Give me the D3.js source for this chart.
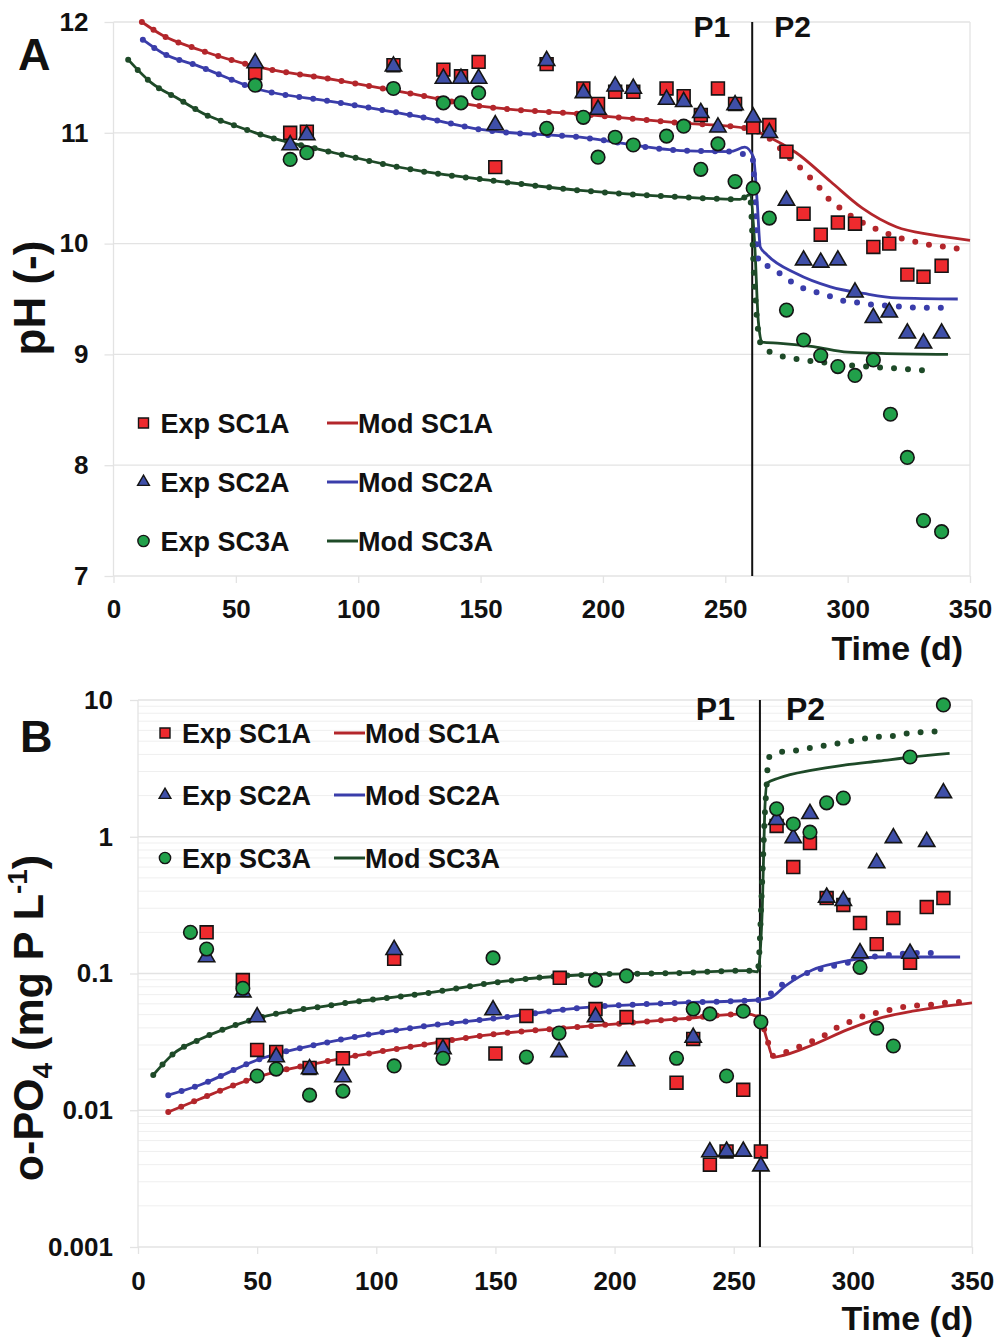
<!DOCTYPE html>
<html><head><meta charset="utf-8">
<script src="https://cdn.jsdelivr.net/npm/d3@7"></script>
<style>
body{margin:0;background:#fff}
svg{display:block}
text{font-family:"Liberation Sans",Arial,sans-serif;font-weight:bold;fill:#111}
</style>
</head><body>
<svg id="c" width="1000" height="1342"></svg>
<script>
// ---------- DATA ----------
const dayTicks = [0,50,100,150,200,250,300,350];
const phTicks = [7,8,9,10,11,12];
const po4Ticks = [0.001,0.01,0.1,1,10];
const po4TickLabels = ["0.001","0.01","0.1","1","10"];
const expLabels = ["Exp SC1A","Exp SC2A","Exp SC3A"];
const modLabels = ["Mod SC1A","Mod SC2A","Mod SC3A"];
const phaseDay = 261;

// Panel A: pH, experimental [day, pH]
const phExp1 = [[57.9,11.54],[72.2,11.0],[79,11.01],[114.4,11.61],[134.8,11.57],[142,11.51],[149.2,11.64],[156,10.69],[177,11.62],[192,11.4],[198,11.26],[205,11.37],[212.4,11.37],[226,11.4],[233,11.33],[240,11.16],[247,11.4],[254,11.26],[261.4,11.05],[268,11.07],[275,10.83],[282,10.27],[289,10.08],[296,10.19],[303,10.18],[310.5,9.97],[317,10.0],[324.4,9.72],[331,9.7],[338.4,9.8]];
const phExp2 = [[57.9,11.63],[72.2,10.89],[79,10.98],[114.4,11.6],[134.8,11.49],[142,11.49],[149.2,11.49],[156,11.07],[177,11.65],[192,11.36],[198,11.21],[205,11.42],[212.4,11.4],[226,11.3],[233,11.28],[240,11.18],[247,11.05],[254,11.25],[261.4,11.14],[268,11.0],[275,10.39],[282,9.85],[289,9.83],[296,9.85],[303,9.56],[310.5,9.33],[317,9.38],[324.4,9.19],[331,9.1],[338.4,9.19]];
const phExp3 = [[57.9,11.43],[72.2,10.76],[79,10.82],[114.4,11.4],[134.8,11.27],[142,11.27],[149.2,11.36],[177,11.04],[192,11.14],[198,10.78],[205,10.96],[212.4,10.89],[226,10.97],[233,11.06],[240,10.67],[247,10.9],[254,10.56],[261.4,10.5],[268,10.23],[275,9.4],[282,9.13],[289,8.99],[296,8.89],[303,8.81],[310.5,8.95],[317.5,8.46],[324.4,8.07],[331,7.5],[338.4,7.4]];
// Panel A: model (solid) and model variant (dotted, P2 part)
const phMod1 = [[11.6,12.0],[20,11.88],[35,11.75],[58,11.6],[90,11.48],[120,11.36],[150,11.24],[190,11.17],[231,11.09],[259,11.04],[268,10.96],[279,10.82],[293,10.56],[306,10.32],[320,10.15],[334,10.08],[350,10.03]];
const phModDot1 = [[261,11.03],[268,10.95],[275,10.8],[282.7,10.64],[287.5,10.53],[292,10.41],[297,10.32],[302,10.24],[308,10.17],[314,10.11],[320,10.06],[327,10.02],[333,9.99],[340,9.97],[346,9.95]];
const phMod2 = [[12,11.84],[20,11.72],[35,11.6],[58,11.4],[90,11.28],[124,11.15],[150,11.03],[190.7,10.96],[231.6,10.84],[252,10.83],[258,10.87],[261.5,10.78],[263,10.39],[264.3,9.97],[267,9.9],[279,9.73],[293,9.61],[306.5,9.55],[320,9.51],[345,9.5]];
const phModDot2 = [[257,10.81],[261,10.79],[262,10.5],[263,9.95],[264,9.82],[267,9.8],[273,9.72],[278,9.64],[284,9.58],[291,9.54],[297,9.49],[303,9.47],[310,9.45],[316,9.44],[323,9.43],[330,9.42],[343,9.42]];
const phMod3 = [[6,11.66],[15,11.46],[27,11.3],[38,11.16],[49,11.07],[58,11.0],[90,10.82],[124,10.66],[158,10.56],[190.7,10.48],[231.6,10.42],[256,10.4],[260,10.44],[262,10.0],[263.5,9.3],[265,9.11],[272.5,9.1],[286,9.07],[300,9.02],[313.5,9.01],[341,9.0]];
const phModDot3 = [[260,10.44],[262,9.6],[263.5,9.2],[265,9.07],[269.7,9.01],[275.8,8.97],[282,8.95],[289,8.93],[295.5,8.92],[302,8.9],[308.6,8.89],[315,8.88],[322,8.87],[328.6,8.86],[335,8.85]];

// Panel B: o-PO4 (mg P/L), experimental [day, value]
const po4Exp1 = [[28.8,0.2],[44,0.0896],[50,0.0276],[58,0.0267],[72,0.0204],[86,0.024],[107.5,0.128],[128,0.030],[150,0.026],[163,0.0489],[177,0.093],[192,0.055],[205,0.048],[226,0.0159],[233,0.0332],[240,0.004],[247,0.005],[254,0.0141],[261.4,0.005],[268,1.2],[275,0.6],[282,0.9],[289,0.356],[296,0.317],[303,0.234],[310,0.164],[317,0.255],[324,0.12],[331,0.306],[338,0.356]];
const po4Exp2 = [[28.8,0.132],[44,0.073],[50,0.048],[58,0.0245],[72,0.02],[86,0.0175],[107.5,0.149],[128,0.028],[149,0.054],[176.7,0.0267],[192,0.048],[205,0.0229],[233,0.034],[240,0.00495],[247,0.005],[254,0.005],[261.4,0.0039],[268,1.33],[275,0.98],[282,1.47],[289,0.36],[296,0.34],[303,0.141],[310,0.643],[317,0.98],[324,0.14],[331,0.92],[338,2.09]];
const po4Exp3 = [[22,0.2],[28.8,0.151],[44,0.078],[50,0.0178],[58,0.02],[72,0.0129],[86,0.0138],[107.5,0.0211],[128,0.024],[149,0.13],[163,0.0245],[176.7,0.0367],[192,0.0895],[205,0.096],[226,0.024],[233,0.055],[240,0.0506],[247,0.0178],[254,0.053],[261.4,0.0442],[268,1.6],[275,1.24],[282,1.08],[289,1.77],[296,1.92],[303,0.111],[310,0.0398],[317,0.0295],[324,3.83],[338,9.2]];
const po4Mod1 = [[12.7,0.0097],[26,0.0121],[50,0.0175],[82,0.0233],[124,0.031],[143.5,0.035],[185.5,0.0407],[227,0.0465],[255.5,0.0506],[261,0.047],[264,0.0327],[266.5,0.0245],[269,0.0248],[283,0.030],[297.5,0.0387],[311,0.047],[325,0.053],[350,0.061]];
const po4ModDot1 = [[261,0.047],[264,0.033],[266.5,0.025],[274,0.0276],[281,0.031],[287,0.0344],[293,0.04],[299.6,0.045],[306,0.0498],[312,0.0524],[319,0.056],[325,0.058],[332,0.059],[338.6,0.061],[345.6,0.062]];
const po4Mod2 = [[12.7,0.0129],[26,0.0153],[50,0.0233],[82,0.032],[124,0.042],[150,0.047],[185.5,0.056],[227,0.061],[260,0.064],[265,0.066],[272,0.082],[283,0.106],[297,0.123],[311,0.132],[345,0.132]];
const po4ModDot2 = [[260,0.064],[266.5,0.073],[272,0.087],[278.6,0.098],[285,0.106],[291,0.113],[298,0.12],[304,0.13],[311,0.134],[318,0.138],[325,0.141],[331.5,0.141],[338,0.141]];
const po4Mod3 = [[6.4,0.0181],[15,0.026],[26,0.033],[50,0.047],[82,0.059],[124,0.073],[150,0.086],[185,0.0975],[227,0.101],[255.5,0.105],[260,0.103],[262,0.3],[263,1.5],[264,2.47],[269,2.69],[283,3.07],[297,3.35],[311,3.58],[325,3.83],[340.6,4.07]];
const po4ModDot3 = [[260,0.103],[262,0.5],[263,1.4],[264,2.7],[264.4,3.77],[270,4.17],[277,4.3],[283,4.5],[290,4.68],[297,4.93],[304,5.19],[310,5.37],[317,5.46],[324,5.74],[331,5.84],[337.5,5.93]];

// ---------- STYLE ----------
const fillCols = ["#EE2A2E","#3F4FA8","#21A04A"];
const lineCols = ["#B3262B","#3A3DAA","#1E4A28"];
const symbols = [d3.symbolSquare, d3.symbolTriangle, d3.symbolCircle];
const symSizes = [165, 115, 145];
const legSizes = [100, 60, 100];
const gridCol = "#e3e3e3";
const FONT = '"Liberation Sans", Arial, sans-serif';

const svg = d3.select("#c");

function withDots(mod, dotP2){ return mod.filter(d=>d[0] < dotP2[0][0]).concat(dotP2); }

function drawPanel(o){
  const g = svg.append("g");
  const [x0,x1] = o.x.range();
  const [yb,yt] = o.y.range();
  if (o.minor){
    g.append("g").selectAll("line").data(o.minor).join("line")
      .attr("x1",x0).attr("x2",x1).attr("y1",d=>o.y(d)).attr("y2",d=>o.y(d))
      .attr("stroke","#efefef").attr("stroke-width",1);
  }
  g.append("g").selectAll("line").data(o.yTicks).join("line")
    .attr("x1",x0).attr("x2",x1).attr("y1",d=>o.y(d)).attr("y2",d=>o.y(d))
    .attr("stroke",gridCol).attr("stroke-width",1.3);
  g.append("g").selectAll("line").data([0,350]).join("line")
    .attr("x1",d=>o.x(d)).attr("x2",d=>o.x(d)).attr("y1",yt).attr("y2",yb)
    .attr("stroke",gridCol).attr("stroke-width",1.3);
  const ay = g.append("g").attr("transform",`translate(${x0},0)`)
    .call(d3.axisLeft(o.y).tickValues(o.yTicks).tickFormat((d,i)=>o.yLabels[i]).tickSize(o.yTickSize).tickPadding(o.yPad));
  const ax = g.append("g").attr("transform",`translate(0,${yb})`)
    .call(d3.axisBottom(o.x).tickValues(dayTicks).tickFormat(d3.format("d")).tickSize(7).tickPadding(o.xPad));
  [ax,ay].forEach(a=>{
    a.select(".domain").remove();
    a.attr("font-size",26).attr("font-family",FONT).attr("font-weight","bold");
    a.selectAll(".tick line").attr("stroke",gridCol).attr("stroke-width",1.3);
    a.selectAll(".tick text").attr("fill","#111");
  });
  g.append("line").attr("x1",o.x(phaseDay)).attr("x2",o.x(phaseDay)).attr("y1",yt).attr("y2",yb)
    .attr("stroke","#111").attr("stroke-width",2);
  const line = d3.line().x(d=>o.x(d[0])).y(d=>o.y(d[1])).curve(d3.curveMonotoneX);
  o.mods.forEach((m,i)=>{
    g.append("path").attr("d",line(m)).attr("fill","none").attr("stroke",lineCols[i]).attr("stroke-width",2.8);
  });
  o.dots.forEach((m,i)=>{
    g.append("path").attr("d",line(m)).attr("fill","none").attr("stroke",lineCols[i])
      .attr("stroke-width",6).attr("stroke-linecap","round").attr("stroke-dasharray","0,14");
  });
  o.exps.forEach((e,i)=>{
    g.append("g").selectAll("path").data(e).join("path")
      .attr("transform",d=>`translate(${o.x(d[0])},${o.y(d[1])})`)
      .attr("d",d3.symbol(symbols[i],symSizes[i]))
      .attr("fill",fillCols[i]).attr("stroke","#151515").attr("stroke-width",1.6);
  });
  const lg = g.append("g");
  o.legRows.forEach((ry,i)=>{
    lg.append("path").attr("transform",`translate(${o.legX},${ry})`)
      .attr("d",d3.symbol(symbols[i],legSizes[i])).attr("fill",fillCols[i]).attr("stroke","#151515").attr("stroke-width",1.4);
    lg.append("text").attr("x",o.legX+17).attr("y",ry+10).attr("font-size",27).text(expLabels[i]);
    lg.append("line").attr("x1",o.legLineX).attr("x2",o.legLineX+31).attr("y1",ry).attr("y2",ry)
      .attr("stroke",lineCols[i]).attr("stroke-width",3);
    lg.append("text").attr("x",o.legLineX+31).attr("y",ry+10).attr("font-size",27).text(modLabels[i]);
  });
  g.append("text").attr("x",o.x(phaseDay)-o.pOff).attr("y",o.pY).attr("text-anchor","end").attr("font-size",o.pSize).text("P1");
  g.append("text").attr("x",o.x(phaseDay)+o.pOff2).attr("y",o.pY).attr("text-anchor","start").attr("font-size",o.pSize).text("P2");
  g.append("text").attr("x",o.titleRight).attr("y",o.xTitleY).attr("text-anchor","end").attr("font-size",34).text("Time (d)");
  return g;
}

// Panel A
const xA = d3.scaleLinear().domain([0,350]).range([113.5,970]);
const yA = d3.scaleLinear().domain([7,12]).range([576,22]);
drawPanel({
  x:xA, y:yA, yTicks:phTicks, yLabels:phTicks.map(String), yTickSize:9, yPad:16, xPad:17,
  mods:[phMod1,phMod2,phMod3],
  dots:[withDots(phMod1,phModDot1), withDots(phMod2.filter(d=>d[0]<252).concat([[252,10.83]]),phModDot2), withDots(phMod3,phModDot3)],
  exps:[phExp1,phExp2,phExp3],
  legX:143.5, legLineX:327, legRows:[423,482,541],
  pOff:22, pOff2:22, pY:37, pSize:30, titleRight:963, xTitleY:660
});
svg.append("text").attr("x",18).attr("y",70).attr("font-size",45).text("A");
svg.append("text").attr("transform","translate(45,298) rotate(-90)").attr("text-anchor","middle").attr("font-size",44).text("pH (-)");

// Panel B
const xB = d3.scaleLinear().domain([0,350]).range([138,972]);
const yB = d3.scaleLog().domain([0.001,10]).range([1247,700]);
const minorB = yB.ticks().filter(v=>!po4Ticks.some(t=>Math.abs(t-v)/t<1e-6));
drawPanel({
  x:xB, y:yB, yTicks:po4Ticks, yLabels:po4TickLabels, yTickSize:8, yPad:17, xPad:18, minor:minorB,
  mods:[po4Mod1,po4Mod2,po4Mod3],
  dots:[withDots(po4Mod1,po4ModDot1), withDots(po4Mod2,po4ModDot2), withDots(po4Mod3,po4ModDot3)],
  exps:[po4Exp1,po4Exp2,po4Exp3],
  legX:165, legLineX:334, legRows:[733,795,858],
  pOff:25, pOff2:26, pY:720, pSize:32, titleRight:973, xTitleY:1330
});
svg.append("text").attr("x",20).attr("y",752).attr("font-size",45).text("B");
const tB = svg.append("text").attr("transform","translate(43,1018) rotate(-90)").attr("text-anchor","middle").attr("font-size",43);
tB.append("tspan").text("o-PO");
tB.append("tspan").attr("font-size",28).attr("dy",9).text("4");
tB.append("tspan").attr("dy",-9).text(" (mg P L");
tB.append("tspan").attr("font-size",28).attr("dy",-16).text("-1");
tB.append("tspan").attr("dy",16).text(")");
</script>
</body></html>
